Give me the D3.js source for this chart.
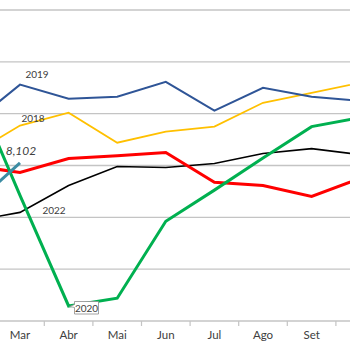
<!DOCTYPE html>
<html>
<head>
<meta charset="utf-8">
<script src="https://cdn.jsdelivr.net/npm/d3@7"></script>
<style>
html,body{margin:0;padding:0;background:#fff;}
svg{display:block;}
</style>
</head>
<body>
<svg id="chart" width="350" height="350"></svg>
<script>
const months = ["Fev","Mar","Abr","Mai","Jun","Jul","Ago","Set","Out"];
const shownMonths = ["Mar","Abr","Mai","Jun","Jul","Ago","Set"];
const yTicks = [2,4,6,8,10,12,14];
const s2019 = [9.6,11.12,10.58,10.65,11.23,10.12,11.0,10.65,10.5];
const s2018 = [8.42,9.54,10.04,8.88,9.31,9.5,10.42,10.8,11.19];
const s2021 = [8.0,7.73,8.27,8.38,8.5,7.35,7.23,6.81,7.5];
const s2022 = [5.85,6.19,7.23,7.96,7.92,8.08,8.46,8.65,8.42];
const s2020 = [11.23,6.85,2.58,2.88,5.85,7.05,8.29,9.5,9.85];
const s2023 = [6.4,8.102,null,null,null,null,null,null,null];

const svg = d3.select("#chart");
const bw = 48.6;
const x0 = 20 - bw*1.5;
const x = d3.scaleBand().domain(months).range([x0, x0 + bw*months.length]).padding(0);
const y = d3.scaleLinear().domain([2,14]).range([321,10]);
const cx = d => x(d) + x.bandwidth()/2;

// gridlines
svg.append("g").selectAll("line").data(yTicks.slice(1)).join("line")
  .attr("x1",0).attr("x2",350)
  .attr("y1",d=>y(d)).attr("y2",d=>y(d))
  .attr("stroke","#c4c4c4").attr("stroke-width",1.4);

// x axis
const ax = svg.append("g").attr("transform",`translate(0,${y(2)})`)
  .call(d3.axisBottom(x).tickValues(shownMonths).tickSize(0).tickPadding(10));
ax.select(".domain").remove();
ax.append("line").attr("x1",0).attr("x2",350).attr("stroke","#c4c4c4").attr("stroke-width",1.4);
ax.selectAll(".tick text").attr("font-family","Lato, 'Open Sans', sans-serif")
  .attr("font-size",11.5).attr("fill","#404040");
ax.selectAll("line.tk").data(months.concat(["_end"])).join("line").attr("class","tk")
  .attr("x1",(d,i)=>x0 + i*bw).attr("x2",(d,i)=>x0 + i*bw)
  .attr("y1",0).attr("y2",5).attr("stroke","#c4c4c4").attr("stroke-width",1.2);

const line = d3.line().defined(d=>d[1]!=null).x(d=>cx(d[0])).y(d=>y(d[1]));
const series = [
  {v:s2018,c:"#FFC000",w:1.8},
  {v:s2019,c:"#2F5597",w:2},
  {v:s2022,c:"#000000",w:1.6},
  {v:s2021,c:"#FF0000",w:3},
  {v:s2020,c:"#00B050",w:3},
  {v:s2023,c:"#3C8CA3",w:3}
];
series.forEach(s=>{
  svg.append("path").datum(months.map((m,i)=>[m,s.v[i]]))
    .attr("d",line).attr("fill","none").attr("stroke",s.c)
    .attr("stroke-width",s.w).attr("stroke-linejoin","miter");
});

const font = "Lato, 'Open Sans', sans-serif";
const labels = [
  {t:"2019",x:37,y:78},
  {t:"2018",x:33,y:122},
  {t:"2022",x:54,y:214}
];
labels.forEach(l=>{
  svg.append("text").attr("x",l.x).attr("y",l.y).attr("text-anchor","middle")
    .attr("font-family",font).attr("font-size",10).attr("fill","#404040").text(l.t);
});
svg.append("text").attr("x",21).attr("y",155).attr("text-anchor","middle")
  .attr("font-family",font).attr("font-size",12).attr("font-style","italic")
  .attr("fill","#404040").text("8,102");

// callout for 2020
const px = cx("Abr"), py = y(s2020[2]);
const bx = 74.5, by = 301.5, bwid = 24, bh = 12.5;
svg.append("path")
  .attr("d",`M${bx},${by} H${bx+bwid} V${by+bh} H${bx} V${by+6} L${px+1},${py+0.5} L${bx},${by+3} Z`)
  .attr("fill","#fff").attr("stroke","#8c8c8c").attr("stroke-width",0.8);
svg.append("text").attr("x",bx+bwid/2).attr("y",by+10).attr("text-anchor","middle")
  .attr("font-family",font).attr("font-size",10).attr("fill","#404040").text("2020");
</script>
</body>
</html>
